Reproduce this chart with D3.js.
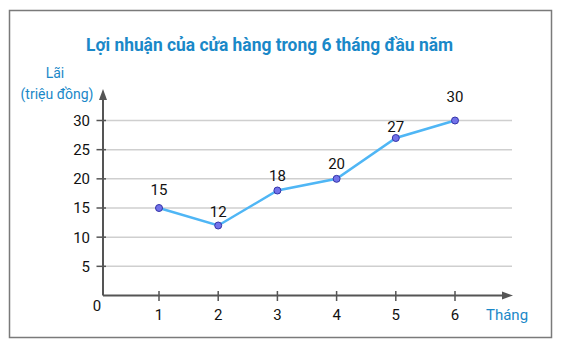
<!DOCTYPE html>
<html><head><meta charset="utf-8">
<script src="https://cdn.jsdelivr.net/npm/d3@7"></script>
<style>html,body{margin:0;padding:0;background:#fff;}svg{display:block;font-family:Roboto,"Noto Sans",sans-serif;}</style>
</head><body>
<script>
const months = [1, 2, 3, 4, 5, 6];
const profits = [15, 12, 18, 20, 27, 30];
const yTicks = [5, 10, 15, 20, 25, 30];
const title = "Lợi nhuận của cửa hàng trong 6 tháng đầu năm";
const yTitle1 = "Lãi";
const yTitle2 = "(triệu đồng)";
const xTitle = "Tháng";

const W = 568, H = 352;
const svg = d3.select("body").append("svg").attr("width", W).attr("height", H);

svg.append("rect").attr("x", 9.5).attr("y", 10.5).attr("width", 542).attr("height", 327)
  .attr("fill", "#fff").attr("stroke", "#7a7a7a").attr("stroke-width", 1.5);

const x0 = 103, y0 = 295.5;
const x = d3.scaleLinear().domain([1, 6]).range([159, 455]);
const y = d3.scaleLinear().domain([0, 30]).range([y0, 120.5]);

svg.append("text").attr("x", 269.5).attr("y", 51).attr("text-anchor", "middle")
  .attr("fill", "#1a88c8").attr("font-weight", "bold").attr("font-size", 19)
  .attr("textLength", 367).attr("lengthAdjust", "spacingAndGlyphs").text(title);

// gridlines
svg.append("g").selectAll("line").data(yTicks).join("line")
  .attr("x1", x0).attr("x2", 512).attr("y1", d => y(d)).attr("y2", d => y(d))
  .attr("stroke", "#cfcfcf").attr("stroke-width", 1.5);

const axisColor = "#555";
// y axis ticks
svg.append("g").selectAll("line").data(yTicks).join("line")
  .attr("x1", 96.5).attr("x2", 106).attr("y1", d => y(d)).attr("y2", d => y(d))
  .attr("stroke", axisColor).attr("stroke-width", 1.5);
svg.append("g").selectAll("text").data(yTicks).join("text")
  .attr("x", 90).attr("y", d => y(d)).attr("dy", "0.36em").attr("text-anchor", "end")
  .attr("font-size", 15).attr("fill", "#111").text(d => d);

// x axis ticks
svg.append("g").selectAll("line").data(months).join("line")
  .attr("x1", d => x(d)).attr("x2", d => x(d)).attr("y1", 291).attr("y2", 301)
  .attr("stroke", axisColor).attr("stroke-width", 1.5);
svg.append("g").selectAll("text").data(months).join("text")
  .attr("x", d => x(d)).attr("y", 320).attr("text-anchor", "middle")
  .attr("font-size", 15).attr("fill", "#111").text(d => d);

// axes with arrows
svg.append("line").attr("x1", x0).attr("x2", x0).attr("y1", y0).attr("y2", 98)
  .attr("stroke", axisColor).attr("stroke-width", 2);
svg.append("path").attr("d", `M${x0},89 L${x0-4},100 L${x0+4},100 Z`).attr("fill", axisColor);
svg.append("line").attr("x1", x0).attr("x2", 506).attr("y1", y0).attr("y2", y0)
  .attr("stroke", axisColor).attr("stroke-width", 2);
svg.append("path").attr("d", `M513,${y0} L502,${y0-4} L502,${y0+4} Z`).attr("fill", axisColor);

svg.append("text").attr("x", 97).attr("y", 311).attr("text-anchor", "middle")
  .attr("font-size", 15).attr("fill", "#111").text("0");

svg.append("text").attr("x", 55).attr("y", 78).attr("text-anchor", "middle")
  .attr("font-size", 14).attr("fill", "#1a88c8").text(yTitle1);
svg.append("text").attr("x", 57).attr("y", 99).attr("text-anchor", "middle")
  .attr("font-size", 14).attr("fill", "#1a88c8").text(yTitle2);
svg.append("text").attr("x", 486).attr("y", 320).attr("text-anchor", "start")
  .attr("font-size", 15).attr("fill", "#1a88c8").text(xTitle);

// line
const data = months.map((m, i) => ({m, v: profits[i]}));
svg.append("path").datum(data)
  .attr("d", d3.line().x(d => x(d.m)).y(d => y(d.v)))
  .attr("fill", "none").attr("stroke", "#4fb6f5").attr("stroke-width", 2.5);
svg.append("g").selectAll("circle").data(data).join("circle")
  .attr("cx", d => x(d.m)).attr("cy", d => y(d.v)).attr("r", 3.5)
  .attr("fill", "#7272ea").attr("stroke", "#3434a8").attr("stroke-width", 1);
const labelLift = [13, 9, 10, 10, 6, 19];
svg.append("g").selectAll("text").data(data).join("text")
  .attr("x", d => x(d.m)).attr("y", (d, i) => y(d.v) - labelLift[i])
  .attr("text-anchor", "middle").attr("font-size", 15).attr("fill", "#111").text(d => d.v);
</script>
</body></html>
